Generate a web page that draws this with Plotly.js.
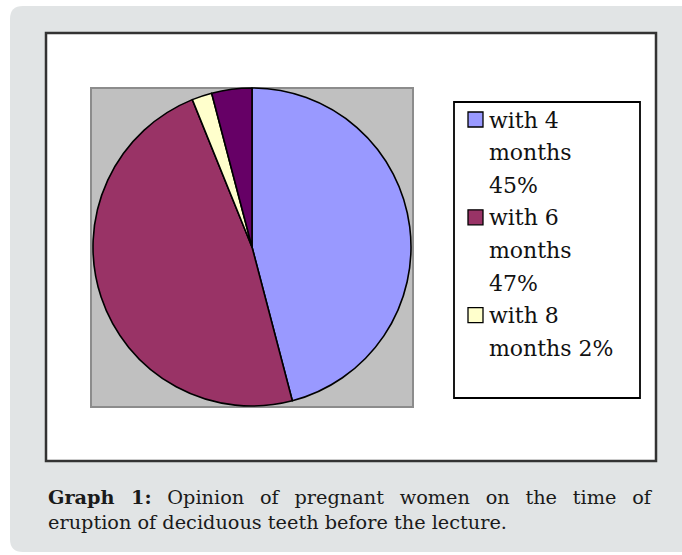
<!DOCTYPE html>
<html>
<head>
<meta charset="utf-8">
<script src="https://cdn.plot.ly/plotly-3.0.1.min.js"></script>
<style>
html,body{margin:0;padding:0;background:#ffffff;}
#chart{width:682px;height:555px;}
</style>
</head>
<body>
<div id="chart"></div>
<script>
// ---- data ----
var categories = ['with 4 months', 'with 6 months', 'with 8 months', 'other'];
var values = [45, 47, 2, 4];
var colors = ['#9999ff', '#993366', '#ffffcc', '#660066'];
var legendLabels = ['with 4\nmonths\n45%', 'with 6\nmonths\n47%', 'with 8\nmonths 2%'];
var captionBold = 'Graph 1:';
var captionLine1 = 'Opinion of pregnant women on the time of';
var captionLine2 = 'eruption of deciduous teeth before the lecture.';

// ---- layout helpers (pixel -> paper) ----
var W = 682, H = 555;
function px(x){ return x / W; }
function py(y){ return 1 - y / H; }

var trace = {
  type: 'pie',
  labels: categories,
  values: values,
  sort: false,
  direction: 'clockwise',
  rotation: 0,
  textinfo: 'none',
  hoverinfo: 'none',
  showlegend: false,
  marker: { colors: colors, line: { color: '#000000', width: 1.6 } },
  domain: { x: [px(93), px(411)], y: [py(406), py(88)] }
};

var shapes = [];
// card background with rounded left corners
var r = 13, cx0 = 10, cy0 = 6, cx1 = 690, cy1 = 552;
shapes.push({
  type: 'path', xref: 'paper', yref: 'paper', layer: 'below',
  path: 'M ' + px(cx0 + r) + ',' + py(cy0) +
        ' L ' + px(cx1) + ',' + py(cy0) +
        ' L ' + px(cx1) + ',' + py(cy1) +
        ' L ' + px(cx0 + r) + ',' + py(cy1) +
        ' Q ' + px(cx0) + ',' + py(cy1) + ' ' + px(cx0) + ',' + py(cy1 - r) +
        ' L ' + px(cx0) + ',' + py(cy0 + r) +
        ' Q ' + px(cx0) + ',' + py(cy0) + ' ' + px(cx0 + r) + ',' + py(cy0) + ' Z',
  fillcolor: '#e1e4e5', line: { width: 0 }
});
// inner white chart box
shapes.push({
  type: 'rect', xref: 'paper', yref: 'paper', layer: 'below',
  x0: px(46), x1: px(656), y0: py(461), y1: py(33),
  fillcolor: '#ffffff', line: { color: '#333333', width: 2.5 }
});
// gray plot area
shapes.push({
  type: 'rect', xref: 'paper', yref: 'paper', layer: 'below',
  x0: px(91), x1: px(413), y0: py(407), y1: py(88),
  fillcolor: '#c0c0c0', line: { color: '#8c8c8c', width: 2 }
});
// legend box
shapes.push({
  type: 'rect', xref: 'paper', yref: 'paper', layer: 'above',
  x0: px(454), x1: px(640), y0: py(398), y1: py(102),
  fillcolor: 'rgba(0,0,0,0)', line: { color: '#000000', width: 1.8 }
});

var annotations = [];
var legendFont = { family: 'DejaVu Serif', size: 22, color: '#111111' };
var lineStep = 32.6, rowY = 120;
legendLabels.forEach(function(lbl, i){
  var lines = lbl.split('\n');
  // swatch
  shapes.push({
    type: 'rect', xref: 'paper', yref: 'paper', layer: 'above',
    x0: px(468), x1: px(483), y0: py(rowY + 7), y1: py(rowY - 8),
    fillcolor: colors[i], line: { color: '#000000', width: 1.3 }
  });
  lines.forEach(function(t, j){
    annotations.push({
      xref: 'paper', yref: 'paper', x: px(487), y: py(rowY + j * lineStep),
      xanchor: 'left', yanchor: 'middle', showarrow: false,
      text: t, font: legendFont
    });
  });
  rowY += lines.length * lineStep;
});

// justified first caption line: widen the word gaps
function justify(s){ return s.split(' ').join('\u2002 '); }

var capFont = { family: 'DejaVu Serif', size: 19.3, color: '#1a1a1a' };
annotations.push({
  xref: 'paper', yref: 'paper', x: px(46), y: py(497),
  xanchor: 'left', yanchor: 'middle', showarrow: false,
  text: '<b>' + justify(captionBold) + '</b>\u2002 ' + justify(captionLine1), font: capFont
});
annotations.push({
  xref: 'paper', yref: 'paper', x: px(46), y: py(522),
  xanchor: 'left', yanchor: 'middle', showarrow: false,
  text: captionLine2, font: capFont
});

var layout = {
  width: W, height: H,
  margin: { l: 0, r: 0, t: 0, b: 0, pad: 0 },
  paper_bgcolor: '#ffffff',
  plot_bgcolor: 'rgba(0,0,0,0)',
  showlegend: false,
  shapes: shapes,
  annotations: annotations
};

Plotly.newPlot('chart', [trace], layout, { displayModeBar: false, staticPlot: true });
</script>
</body>
</html>
